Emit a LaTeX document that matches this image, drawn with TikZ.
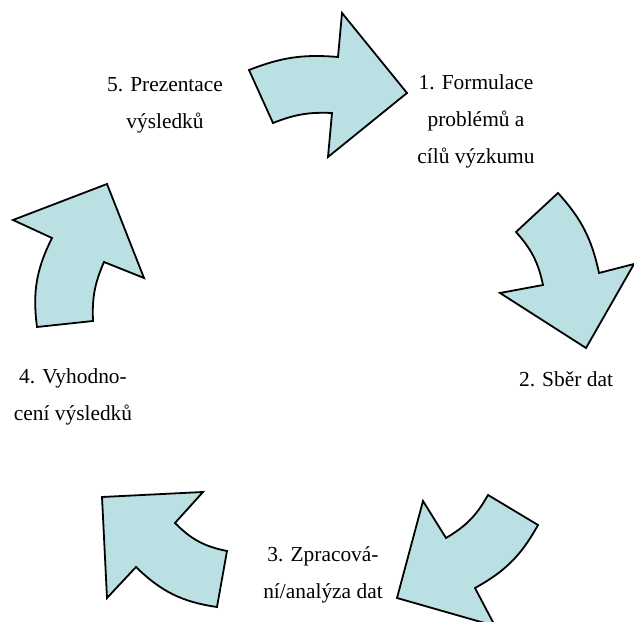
\documentclass[tikz,border=0pt]{standalone}
\usepackage{fontspec}
\setmainfont{Liberation Serif}
\definecolor{arrowfill}{HTML}{BBE0E3}
\begin{document}
\begin{tikzpicture}[x=1pt,y=1pt,
  cyclearrow/.style={draw=black, fill=arrowfill, line width=1.8pt, line join=miter},
  steplabel/.style={inner sep=0pt, align=center, font=\fontsize{21.4}{37}\selectfont}]
\clip (0,0) rectangle (634,621);
% coordinates: (x, 621 - y_image)
% Arrow 1 (top)
\draw[cyclearrow] (249,621-70) to[bend left=13] (338,621-57) -- (342,621-13) -- (407,621-93)
  -- (328,621-157) -- (332,621-113) to[bend right=12] (273,621-123) -- cycle;
% Arrow 2 (right)
\draw[cyclearrow] (558,621-193) to[bend left=15] (599,621-273) -- (634,621-264) -- (586,621-348)
  -- (500,621-293) -- (543,621-285) to[bend right=15] (516,621-232) -- cycle;
% Arrow 3 (lower right)
\draw[cyclearrow] (538,621-525) to[bend left=16] (475,621-588) -- (495,621-626) -- (397,621-598)
  -- (423,621-501) -- (446,621-538) to[bend right=15] (488,621-495) -- cycle;
% Arrow 4 (lower left)
\draw[cyclearrow] (217,621-607) to[bend left=18] (136,621-567) -- (107,621-598) -- (102,621-497)
  -- (203,621-492) -- (175,621-523) to[bend right=17] (227,621-551) -- cycle;
% Arrow 5 (left)
\draw[cyclearrow] (37,621-327) to[bend left=17] (52,621-238) -- (13,621-220) -- (107,621-184)
  -- (144,621-278) -- (104,621-262) to[bend right=13] (93,621-321) -- cycle;
% Labels
\node[steplabel] (s1) at (476,621-119) {\strut 1. Formulace\\\strut problémů a\\\strut cílů výzkumu};
\node[steplabel] (s2) at (566,621-379) {\strut 2. Sběr dat};
\node[steplabel] (s3) at (323,621-573) {\strut 3. Zpracová-\\\strut ní/analýza dat};
\node[steplabel] (s4) at (73,621-395) {\strut 4. Vyhodno-\\\strut cení výsledků};
\node[steplabel] (s5) at (165,621-103) {\strut 5. Prezentace\\\strut výsledků};
\end{tikzpicture}
\end{document}
